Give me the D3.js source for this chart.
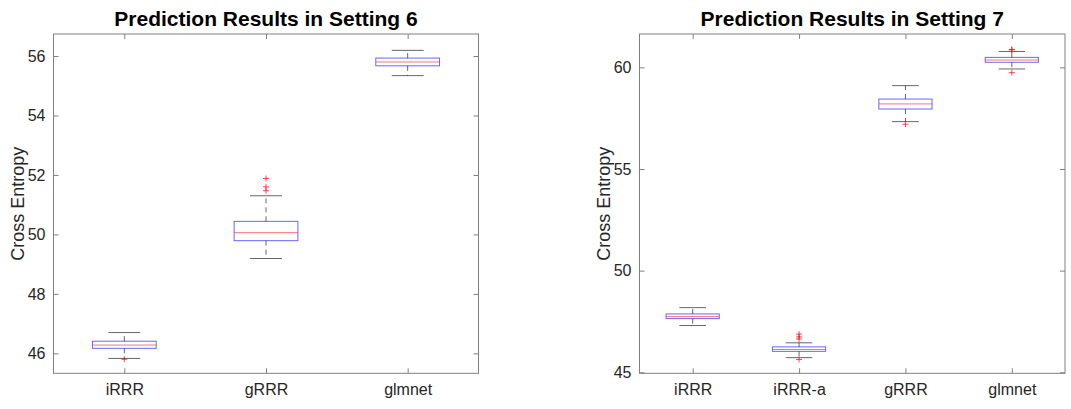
<!DOCTYPE html>
<html><head><meta charset="utf-8">
<script src="https://cdn.jsdelivr.net/npm/d3@7"></script>
<style>
body{margin:0;background:#fff;}
svg{font-family:"Liberation Sans",Arial,Helvetica,sans-serif;}
</style></head>
<body><svg id="c" width="1071" height="409"></svg>
<script>
// ---- Data ----
const titles = ["Prediction Results in Setting 6", "Prediction Results in Setting 7"];
const yLabel = "Cross Entropy";

const categories6 = ["iRRR", "gRRR", "glmnet"];
const q1_6     = [46.17, 49.79, 55.67];
const median6  = [46.28, 50.06, 55.80];
const q3_6     = [46.41, 50.44, 55.93];
const whLow6   = [45.83, 49.19, 55.34];
const whHigh6  = [46.70, 51.30, 56.19];
const outliers6 = [[45.80], [51.47, 51.60, 51.88], []];
const yTicks6 = [46, 48, 50, 52, 54, 56];
const yDomain6 = [45.33, 56.74];

const categories7 = ["iRRR", "iRRR-a", "gRRR", "glmnet"];
const q1_7     = [47.64, 46.03, 57.95, 60.25];
const median7  = [47.74, 46.12, 58.20, 60.36];
const q3_7     = [47.87, 46.25, 58.44, 60.49];
const whLow7   = [47.30, 45.72, 57.33, 59.92];
const whHigh7  = [48.18, 46.45, 59.10, 60.78];
const outliers7 = [[], [46.64, 46.74, 46.88, 45.63], [57.20], [60.86, 60.88, 59.74]];
const yTicks7 = [45, 50, 55, 60];
const yDomain7 = [44.95, 61.64];

const svg = d3.select("#c");
const axisCol = "#808080", textCol = "#262626";

function panel(opt){
  const {left, right, top, bottom, cats, q1, med, q3, lo, hi, outs, ticks, domain, title, boxFrac} = opt;
  const g = svg.append("g");
  const x = d3.scalePoint().domain(cats).range([left, right]).padding(0.5);
  const step = x.step();
  const y = d3.scaleLinear().domain(domain).range([bottom, top]);
  const bw = step * boxFrac, cw = bw / 2;

  g.append("rect").attr("x", left).attr("y", top).attr("width", right-left).attr("height", bottom-top)
    .attr("fill", "none").attr("stroke", axisCol).attr("stroke-width", 1);

  const ya = g.append("g").attr("transform", `translate(${left},0)`)
    .call(d3.axisLeft(y).tickValues(ticks).tickSizeInner(-5).tickSizeOuter(0).tickPadding(8));
  ya.select(".domain").remove();
  ya.selectAll("line").attr("stroke", axisCol);
  ya.selectAll("text").attr("fill", textCol).style("font-size", "16px");
  const yr = g.append("g").attr("transform", `translate(${right},0)`)
    .call(d3.axisRight(y).tickValues(ticks).tickSizeInner(-5).tickSizeOuter(0).tickFormat(""));
  yr.select(".domain").remove(); yr.selectAll("line").attr("stroke", axisCol);

  const xa = g.append("g").attr("transform", `translate(0,${bottom})`)
    .call(d3.axisBottom(x).tickSizeInner(-5).tickSizeOuter(0).tickPadding(10));
  xa.select(".domain").remove();
  xa.selectAll("line").attr("stroke", axisCol);
  xa.selectAll("text").attr("fill", textCol).style("font-size", "16px");
  const xt = g.append("g").attr("transform", `translate(0,${top})`)
    .call(d3.axisTop(x).tickSizeInner(-5).tickSizeOuter(0).tickFormat(""));
  xt.select(".domain").remove(); xt.selectAll("line").attr("stroke", axisCol);

  g.append("text").attr("transform", `translate(${left-30},${(top+bottom)/2}) rotate(-90)`)
    .attr("text-anchor", "middle").attr("fill", textCol).style("font-size", "18px").text(yLabel);
  g.append("text").attr("x", (left+right)/2).attr("y", top-8).attr("text-anchor", "middle")
    .attr("fill", "#000").style("font-size", "21px").style("font-weight", "bold").text(title);

  cats.forEach((c, i) => {
    const cx = x(c);
    g.append("line").attr("x1", cx).attr("x2", cx).attr("y1", y(q3[i])).attr("y2", y(hi[i]))
      .attr("stroke", "#000").attr("stroke-opacity", 0.6).attr("stroke-dasharray", "5,4");
    g.append("line").attr("x1", cx).attr("x2", cx).attr("y1", y(q1[i])).attr("y2", y(lo[i]))
      .attr("stroke", "#000").attr("stroke-opacity", 0.6).attr("stroke-dasharray", "5,4");
    [hi[i], lo[i]].forEach(v => g.append("line").attr("x1", cx-cw/2).attr("x2", cx+cw/2)
      .attr("y1", y(v)).attr("y2", y(v)).attr("stroke", "#000").attr("stroke-opacity", 0.6));
    g.append("rect").attr("x", cx-bw/2).attr("y", y(q3[i])).attr("width", bw).attr("height", y(q1[i])-y(q3[i]))
      .attr("fill", "none").attr("stroke", "#0000ff").attr("stroke-opacity", 0.6);
    g.append("line").attr("x1", cx-bw/2).attr("x2", cx+bw/2).attr("y1", y(med[i])).attr("y2", y(med[i]))
      .attr("stroke", "#ff0000").attr("stroke-opacity", 0.55);
    outs[i].forEach(v => {
      const py = y(v);
      g.append("path").attr("d", `M${cx-3},${py}H${cx+3}M${cx},${py-3}V${py+3}`)
        .attr("stroke", "#ff0000").attr("stroke-opacity", 0.7).attr("fill", "none");
    });
  });
}

panel({left: 53.5, right: 478.5, top: 34, bottom: 373.3, cats: categories6, q1: q1_6, med: median6, q3: q3_6,
  lo: whLow6, hi: whHigh6, outs: outliers6, ticks: yTicks6, domain: yDomain6, title: titles[0], boxFrac: 0.45});
panel({left: 639.5, right: 1065, top: 34, bottom: 373.3, cats: categories7, q1: q1_7, med: median7, q3: q3_7,
  lo: whLow7, hi: whHigh7, outs: outliers7, ticks: yTicks7, domain: yDomain7, title: titles[1], boxFrac: 0.5});
</script></body></html>
